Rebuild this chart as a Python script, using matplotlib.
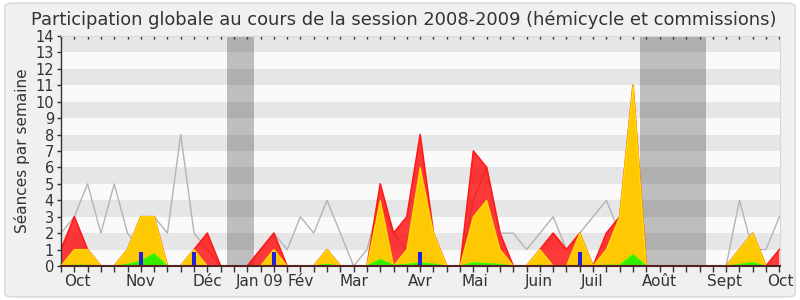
import numpy as np
import matplotlib
matplotlib.use("Agg")
import matplotlib.pyplot as plt
from matplotlib.patches import FancyBboxPatch

# ---- data (one value per week, session 2008-2009) ----
weeks = list(range(55))
presence_total = [1, 3, 1, 0, 0, 1, 3, 3, 0, 0, 1, 2, 0, 0, 0, 1, 2, 0, 0, 0,
                  1, 0, 0, 0, 5, 2, 3, 8, 2, 0, 0, 7, 6, 2, 0, 0, 1, 2, 1, 2,
                  0, 2, 3, 11, 0, 0, 0, 0, 0, 0, 0, 1, 2, 0, 1]
presence_hemicycle = [0, 1, 1, 0, 0, 1, 3, 3, 0, 0, 1, 0, 0, 0, 0, 0, 1, 0, 0, 0,
                      1, 0, 0, 0, 4, 0, 1, 6, 2, 0, 0, 3, 4, 1, 0, 0, 1, 0, 0, 2,
                      0, 1, 3, 11, 0, 0, 0, 0, 0, 0, 0, 1, 2, 0, 0]
participation = [0, 0.05, 0.05, 0, 0, 0.1, 0.3, 0.75, 0, 0, 0, 0, 0, 0, 0, 0, 0, 0, 0, 0,
                 0.1, 0, 0, 0, 0.4, 0.05, 0.1, 0.2, 0.12, 0, 0, 0.2, 0.15, 0.1, 0, 0, 0.05, 0, 0, 0.05,
                 0, 0.05, 0.05, 0.7, 0, 0, 0, 0, 0, 0, 0, 0.1, 0.2, 0, 0]
moyenne = [2, 3, 5, 2, 5, 2, 1, 3, 2, 8, 2, 1, 0, 0, 0, 1, 2, 1, 3, 2,
           4, 2, 0, 1, 4, 2, 1, 1, 1, 0, 0, 4, 6, 2, 2, 1, 2, 3, 1, 2,
           3, 4, 2, 1, 0, 0, 0, 0, 0, 0, 0, 4, 1, 1, 3]
question_weeks = [6, 10, 16, 27, 39]
question_values = [0.85, 0.85, 0.85, 0.85, 0.85]
vacances = [(12.5, 14.5), (43.5, 48.5)]
month_labels = ["Oct", "Nov", "Déc", "Jan 09", "Fév", "Mar", "Avr", "Mai",
                "Juin", "Juil", "Août", "Sept", "Oct"]
month_pos = [1.2, 6, 11, 14.9, 18, 22, 27, 31.1, 35.9, 39.9, 45, 49.9, 54.05]

plt.rcParams['font.family'] = ['DejaVu Sans']

fig = plt.figure(figsize=(8, 3), dpi=100)
fig.patch.set_facecolor('white')
bg = FancyBboxPatch((0.006, 0.01), 0.988, 0.98, boxstyle="round,pad=0,rounding_size=0.012",
                    transform=fig.transFigure, facecolor='#f0f0f0', edgecolor='#d8d8d8',
                    linewidth=1, zorder=-10)
fig.patches.append(bg)

ax = fig.add_axes([0.07625, 0.1133, 0.89875, 0.7667])
ax.set_facecolor('#fafafa')
ax.set_xlim(0, 54)
ax.set_ylim(0, 14)

# vacation bands
for a, b in vacances:
    ax.axvspan(a, b, color='#bebebe', zorder=0.5, lw=0)
# stripes
for y0 in range(1, 14, 2):
    ax.axhspan(y0, y0 + 1, color='black', alpha=0.08, zorder=0.6, lw=0)

x = np.array(weeks)
ax.plot(x, moyenne, color='#b4b4b4', lw=1, zorder=1)
ax.fill_between(x, 0, presence_total, facecolor='#ff0000', alpha=0.77, lw=0, zorder=2)
ax.plot(x, presence_total, color='#ff1a1a', lw=1.2, zorder=2.1)
ax.fill_between(x, 0, presence_hemicycle, facecolor='#ffd200', alpha=0.95, lw=0, zorder=3)
ax.plot(x, presence_hemicycle, color='#ffee00', lw=1, alpha=0.8, zorder=3.1)
ax.fill_between(x, 0, participation, facecolor='#33ee00', lw=0, zorder=4)
ax.plot(x, participation, color='#33ff00', lw=0.8, zorder=4.1)
ax.bar(question_weeks, question_values, width=0.28, color='#2020dd', zorder=5)

# spines
for s in ['top', 'right']:
    ax.spines[s].set_color('#d8d8d8')
for s in ['left', 'bottom']:
    ax.spines[s].set_color('#333333')
    ax.spines[s].set_linewidth(1)
ax.spines['bottom'].set_color('#552222')
ax.spines['bottom'].set_linewidth(1.5)
ax.spines['bottom'].set_zorder(6)

ax.set_yticks(range(0, 15))
ax.tick_params(axis='y', which='major', direction='out', length=3, width=1,
               color='#333333', labelsize=10.5, labelcolor='#333333', pad=2)

ax.xaxis.remove_overlapping_locs = False
ax.set_xticks(month_pos)
ax.set_xticklabels(month_labels)
ax.set_xticks(weeks, minor=True)
ax.tick_params(axis='x', which='major', length=0, labelsize=11, labelcolor='#333333', pad=6)
ax.tick_params(axis='x', which='minor', direction='out', length=4, width=1,
               color='#333333', top=True, bottom=True)
for t in ax.xaxis.get_minor_ticks():
    t.tick2line.set_marker(3)
    t.tick2line.set_markersize(2)

ax.set_ylabel("Séances par semaine", fontsize=11, color='#333333', labelpad=4)
fig.text(0.505, 0.935, "Participation globale au cours de la session 2008-2009 (hémicycle et commissions)",
         ha='center', va='center', fontsize=12.85, color='#333333')

fig.savefig("out.png", dpi=100, facecolor=fig.get_facecolor())
